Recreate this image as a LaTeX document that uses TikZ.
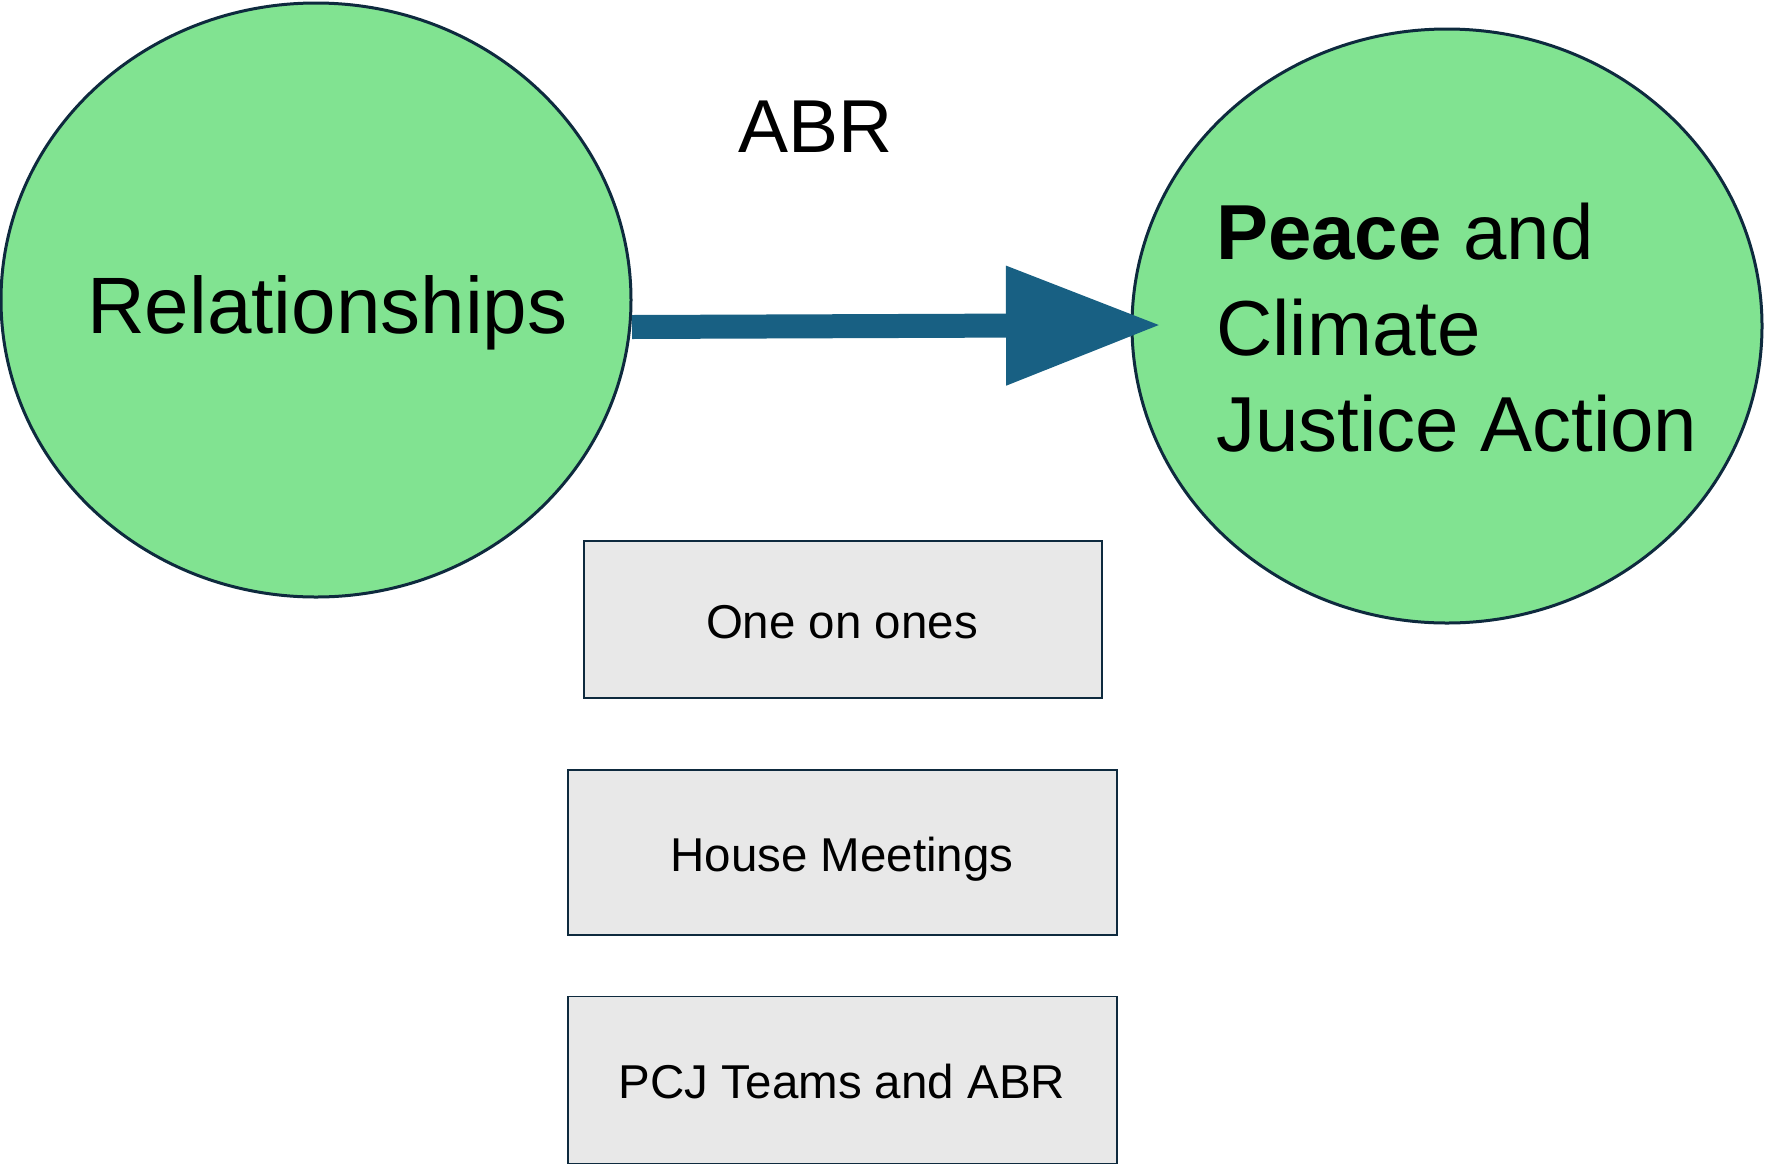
\documentclass[tikz,border=0pt]{standalone}
\usepackage{fontspec}
\setmainfont{Liberation Sans}
\usetikzlibrary{shapes.geometric,arrows.meta}
\definecolor{leaf}{HTML}{81E391}
\definecolor{ink}{HTML}{0E2A3E}
\definecolor{steel}{HTML}{186083}
\definecolor{paper}{HTML}{E8E8E8}
\begin{document}
\begin{tikzpicture}[x=1pt,y=-1pt,
  bubble/.style={ellipse, draw=ink, fill=leaf, line width=3pt, inner sep=0pt},
  card/.style={rectangle, draw=ink, fill=paper, line width=1.6pt, inner sep=0pt},
  bigtext/.style={inner sep=0pt, anchor=base west, font=\fontsize{78}{96}\selectfont},
  cardtext/.style={inner sep=0pt, font=\fontsize{47.5}{56}\selectfont}]
\useasboundingbox (0,0) rectangle (1767,1163);
% the two circles
\node[bubble, minimum width=630pt, minimum height=594pt] (rel) at (316,300) {};
\node[bubble, minimum width=630pt, minimum height=594pt] (pcj) at (1447,326) {};
% arrow between them
\coordinate (a0) at (632,327);
\coordinate (a1) at (1161,325);
\draw[steel, line width=24pt, -{Triangle[width=113pt, length=155pt]}] (a0) -- (a1);
% labels
\node[bigtext, font=\fontsize{80}{96}\selectfont] (relt) at (87,333) {Relationships};
\node[bigtext, font=\fontsize{75}{90}\selectfont] (abr) at (738,152) {ABR};
\node[bigtext] (l1) at (1216,259) {\textbf{Peace} and};
\node[bigtext] (l2) at (1216,355) {Climate};
\node[bigtext] (l3) at (1216,451) {Justice Action};
% the three activity boxes
\node[card, minimum width=518pt, minimum height=157pt] (b1) at (843,619.5) {};
\node[card, minimum width=549pt, minimum height=165pt] (b2) at (842.5,852.5) {};
\node[card, minimum width=549pt, minimum height=167pt] (b3) at (842.5,1080) {};
\node[cardtext, anchor=base] (t1) at (842,638) {One on ones};
\node[cardtext, anchor=base] (t2) at (842,871) {House Meetings};
\node[cardtext, anchor=base] (t3) at (842,1098) {PCJ Teams and ABR};
\end{tikzpicture}
\end{document}
